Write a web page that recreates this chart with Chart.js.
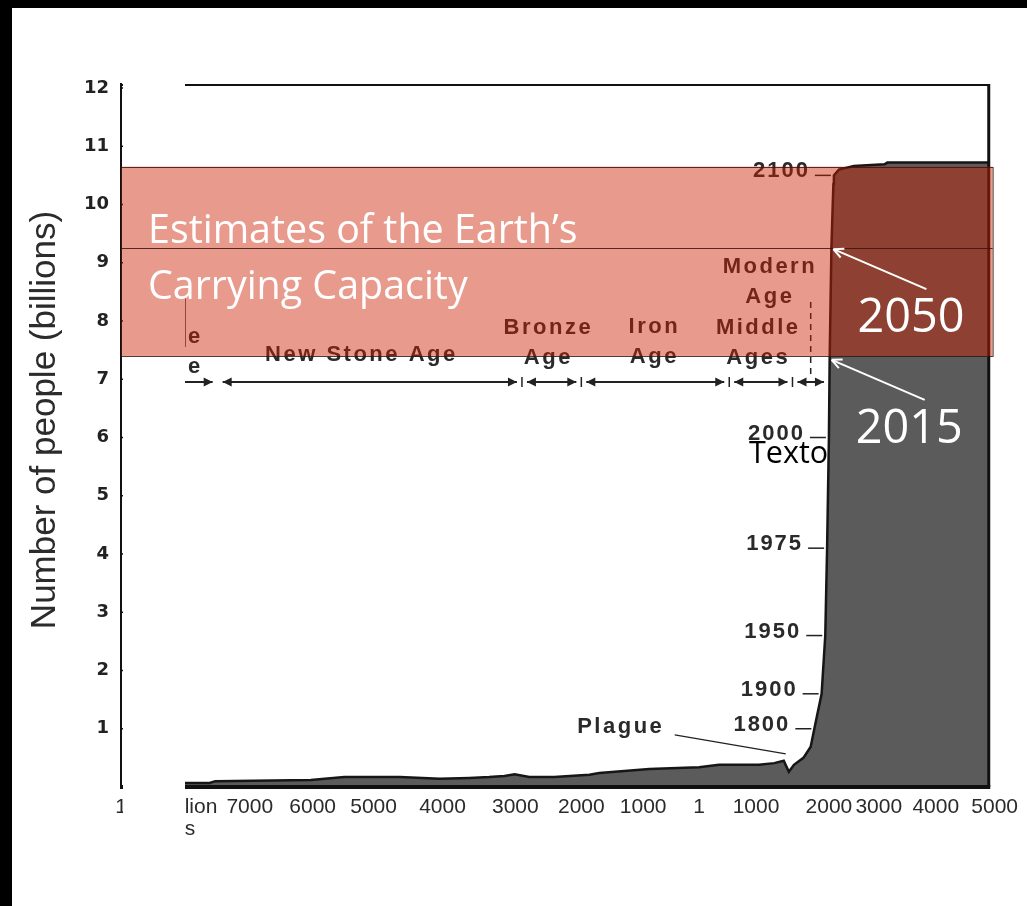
<!DOCTYPE html>
<html lang="en">
<head>
<meta charset="UTF-8">
<title>World Population Growth Through History</title>
<script src="https://cdn.jsdelivr.net/npm/chart.js"></script>
<style>
  html, body { margin: 0; padding: 0; background: #fff; }
  canvas { display: block; }
</style>
</head>
<body>
<canvas id="popChart" width="1027" height="906"></canvas>
<script>
// x axis ticks (years, negative = BC) and their labels
const tickYears = [-9000, -8000, -7000, -6000, -5000, -4000, -3000, -2000, -1000, 1, 1000, 2000, 3000, 4000, 5000];
const tickLabels = ['1', ['2-5 million', 'years'], '7000', '6000', '5000', '4000', '3000', '2000', '1000', '1', '1000', '2000', '3000', '4000', '5000'];

// world population, billions
const popYears = [-8000, -7500, -7430, -6030, -5480, -4620, -4040, -3630, -3360, -3150, -3010, -2790, -2410, -1870, -1710, -890, 1, 350, 1040, 1250, 1380, 1450, 1520, 1650, 1750, 1800, 1900, 1950, 1975, 2000, 2015, 2050, 2075, 2090, 2100, 2200, 2500, 3100, 3150, 4900];
const popValues = [0.07, 0.07, 0.10, 0.12, 0.17, 0.17, 0.14, 0.155, 0.17, 0.19, 0.22, 0.17, 0.17, 0.21, 0.24, 0.31, 0.34, 0.38, 0.38, 0.41, 0.45, 0.26, 0.38, 0.50, 0.69, 1.0, 1.6, 2.6, 4.1, 6.0, 7.35, 9.25, 9.95, 10.35, 10.5, 10.6, 10.66, 10.69, 10.72, 10.72];

// eras along the timeline
const eraLines = [['Old Stone', 'Age'], ['New Stone Age'], ['Bronze', 'Age'], ['Iron', 'Age'], ['Middle', 'Ages'], ['Modern', 'Age']];
const eraStart = [-9000, -7400, -2900, -2000, 530, 1500];
const eraEnd = [-7400, -2900, -2000, 530, 1500, 2000];
const eraLabelYear = [-7585, -5200, -2500, -800, 1030, 1190];
const eraLabelAlign = ['right', 'center', 'center', 'center', 'center', 'center'];

// labelled points on the curve
const milestoneYears = [1800, 1900, 1950, 1975, 2000, 2100];
const calloutYears = [2050, 2015];
const plagueYear = 1380;
const modernMarkYear = 1750;

// carrying capacity band, billions
const capacityLow = 7.4;
const capacityHigh = 10.65;

// --- layout ---
// where each tick year sits along the x axis (0 = left end, 1 = right end)
const tickSpots = [0, 0.0555, 0.1474, 0.2194, 0.2891, 0.368, 0.4514, 0.5269, 0.5977, 0.6617, 0.7269, 0.8103, 0.8674, 0.9326, 1];
const eraLabelRise = [45, 27, 54, 55, 54, 115];
const arrowRowY = 382;
const maskRight = 185;

function spotOf(year) {
  const n = tickYears.length;
  if (year <= tickYears[0]) return tickSpots[0];
  for (let i = 1; i < n; i++) {
    if (year <= tickYears[i]) {
      const t = (year - tickYears[i - 1]) / (tickYears[i] - tickYears[i - 1]);
      return tickSpots[i - 1] + t * (tickSpots[i] - tickSpots[i - 1]);
    }
  }
  return tickSpots[n - 1];
}

function yearOf(spot) {
  const n = tickSpots.length;
  if (spot <= 0) return tickYears[0];
  for (let i = 1; i < n; i++) {
    if (spot <= tickSpots[i]) {
      const t = (spot - tickSpots[i - 1]) / (tickSpots[i] - tickSpots[i - 1]);
      return tickYears[i - 1] + t * (tickYears[i] - tickYears[i - 1]);
    }
  }
  return tickYears[n - 1];
}

// linear scale with uneven spacing between the year ticks
class EraScale extends Chart.LinearScale {
  static id = 'era';
  static defaults = {};
  determineDataLimits() {
    this.min = tickYears[0];
    this.max = tickYears[tickYears.length - 1];
  }
  buildTicks() {
    return tickYears.map(v => ({ value: v }));
  }
  getPixelForValue(value) {
    return this.left + spotOf(value) * this.width;
  }
  getValueForPixel(pixel) {
    return yearOf((pixel - this.left) / this.width);
  }
}
Chart.register(EraScale);

function line(ctx, x1, y1, x2, y2) {
  ctx.beginPath();
  ctx.moveTo(x1, y1);
  ctx.lineTo(x2, y2);
  ctx.stroke();
}

function head(ctx, x, y, dir) {
  ctx.beginPath();
  ctx.moveTo(x, y);
  ctx.lineTo(x - dir * 9, y - 4.5);
  ctx.lineTo(x - dir * 9, y + 4.5);
  ctx.closePath();
  ctx.fill();
}

function openArrow(ctx, x1, y1, x2, y2) {
  line(ctx, x1, y1, x2, y2);
  const a = Math.atan2(y2 - y1, x2 - x1);
  for (const s of [-1, 1]) {
    const b = a + Math.PI + s * 0.45;
    line(ctx, x2, y2, x2 + 11 * Math.cos(b), y2 + 11 * Math.sin(b));
  }
}

function fitFont(ctx, text, width, family, weight) {
  ctx.font = `${weight} 100px ${family}`;
  const size = 100 * width / ctx.measureText(text).width;
  return `${weight} ${size.toFixed(1)}px ${family}`;
}

const popAt = yr => popValues[popYears.indexOf(yr)];

const annotations = {
  id: 'annotations',
  beforeDraw(chart) {
    const ctx = chart.ctx;
    ctx.save();
    ctx.fillStyle = '#fff';
    ctx.fillRect(0, 0, chart.width, chart.height);
    ctx.restore();
  },
  afterDatasetsDraw(chart) {
    const { ctx, chartArea: area, scales: { x, y } } = chart;
    const px = v => x.getPixelForValue(v);
    const py = v => y.getPixelForValue(v);
    const plotRight = px(popYears[popYears.length - 1]);
    ctx.save();

    // plot frame and y axis
    ctx.strokeStyle = '#111';
    ctx.lineWidth = 2;
    line(ctx, area.left, area.top - 3, plotRight, area.top - 3);
    line(ctx, area.left, area.top - 5, area.left, area.bottom + 2);
    ctx.lineWidth = 3;
    line(ctx, plotRight, area.top - 4, plotRight, area.bottom);
    ctx.lineWidth = 4;
    line(ctx, area.left, area.bottom, plotRight + 1.5, area.bottom);
    ctx.lineWidth = 1.5;
    for (let v = 1; v <= 12; v++) line(ctx, area.left, py(v), area.left + 4, py(v));

    // era arrows and names, cut off at the patch edge
    ctx.save();
    ctx.beginPath();
    ctx.rect(maskRight, 0, chart.width - maskRight, chart.height);
    ctx.clip();
    ctx.strokeStyle = '#222';
    ctx.fillStyle = '#222';
    ctx.lineWidth = 2;
    eraStart.forEach((s, i) => {
      const a = px(s) + 5, b = px(eraEnd[i]) - 5;
      line(ctx, a, arrowRowY, b, arrowRowY);
      head(ctx, b, arrowRowY, 1);
      if (i > 0) head(ctx, a, arrowRowY, -1);
      if (i > 1) {
        ctx.lineWidth = 1.5;
        line(ctx, px(s), arrowRowY - 5, px(s), arrowRowY + 5);
        ctx.lineWidth = 2;
      }
    });

    ctx.font = 'bold 22px "Liberation Sans"';
    ctx.letterSpacing = '2.5px';
    ctx.textBaseline = 'middle';
    ctx.fillStyle = '#2a2a2a';
    eraLines.forEach((lines, i) => {
      ctx.textAlign = eraLabelAlign[i];
      lines.forEach((t, k) => {
        ctx.fillText(t, px(eraLabelYear[i]), arrowRowY - eraLabelRise[i] + k * 30);
      });
    });
    ctx.restore();

    // marker below "Modern Age"
    ctx.strokeStyle = '#222';
    ctx.fillStyle = '#2a2a2a';
    ctx.lineWidth = 1.5;
    ctx.setLineDash([6, 5]);
    line(ctx, px(modernMarkYear), 302, px(modernMarkYear), 374);
    ctx.setLineDash([]);

    // year labels along the rise
    ctx.font = 'bold 22px "Liberation Sans"';
    ctx.textBaseline = 'middle';
    ctx.letterSpacing = '2px';
    ctx.textAlign = 'right';
    milestoneYears.forEach(yr => {
      const cx = px(yr), cy = py(popAt(yr));
      ctx.fillText(String(yr), cx - 24, cy - 4);
      line(ctx, cx - 19, cy, cx - 3, cy);
    });

    // plague dip
    {
      const cx = px(plagueYear), cy = py(popAt(plagueYear));
      ctx.letterSpacing = '2.5px';
      ctx.textAlign = 'center';
      ctx.fillText('Plague', cx - 163, cy - 34);
      ctx.lineWidth = 1.2;
      line(ctx, cx - 109, cy - 26, cx + 2, cy - 7);
    }
    ctx.letterSpacing = '0px';

    // white patch over the far left of the timeline
    ctx.fillStyle = '#fff';
    ctx.fillRect(area.left + 2, area.top - 15, maskRight - area.left - 2, 800);
    ctx.strokeStyle = '#666';
    ctx.lineWidth = 1;
    line(ctx, maskRight + 0.5, 298, maskRight + 0.5, 347);

    // carrying capacity band
    const bandTop = py(capacityHigh), bandBot = py(capacityLow);
    const bandRight = area.right - 2;
    ctx.fillStyle = 'rgba(204, 33, 0, 0.45)';
    ctx.fillRect(area.left, bandTop, bandRight - area.left, bandBot - bandTop);
    ctx.strokeStyle = 'rgba(55, 22, 12, 0.85)';
    ctx.lineWidth = 1;
    ctx.strokeRect(area.left + 0.5, Math.round(bandTop) + 0.5, bandRight - area.left, Math.round(bandBot - bandTop));
    const midY = Math.round(py(popAt(2050))) + 0.5;
    line(ctx, area.left, midY, bandRight, midY);

    // band caption
    ctx.fillStyle = '#fff';
    ctx.textAlign = 'left';
    ctx.textBaseline = 'alphabetic';
    ctx.font = fitFont(ctx, 'Estimates of the Earth\u2019s', 429, '"Open Sans"', 'normal');
    ctx.fillText('Estimates of the Earth\u2019s', 148, 243);
    ctx.fillText('Carrying Capacity', 148, 299);

    // 2050 / 2015 callouts
    ctx.font = fitFont(ctx, '2050', 107, '"Open Sans"', 'normal');
    ctx.strokeStyle = '#fff';
    ctx.lineWidth = 2;
    calloutYears.forEach(yr => {
      const cx = px(yr), cy = py(popAt(yr));
      openArrow(ctx, cx + 95, cy + 41, cx + 2, cy + 1);
      ctx.fillText(String(yr), cx + 26, cy + 84);
    });

    // stray text box
    ctx.fillStyle = '#000';
    ctx.font = fitFont(ctx, 'Texto', 79, '"Open Sans"', 'normal');
    ctx.fillText('Texto', 749, 463);

    ctx.restore();
  },
  afterDraw(chart) {
    const ctx = chart.ctx;
    ctx.save();
    // y axis title
    ctx.translate(55, 420);
    ctx.rotate(-Math.PI / 2);
    ctx.fillStyle = '#2b2b2b';
    ctx.font = '35px "Liberation Sans"';
    ctx.textAlign = 'center';
    ctx.textBaseline = 'alphabetic';
    ctx.fillText('Number of people (billions)', 0, 0);
    ctx.restore();
    // dark page edge
    ctx.save();
    ctx.fillStyle = '#000';
    ctx.fillRect(0, 0, 12, chart.height);
    ctx.fillRect(0, 0, chart.width, 8);
    ctx.restore();
  }
};

new Chart(document.getElementById('popChart'), {
  type: 'line',
  data: {
    datasets: [{
      data: popYears.map((yr, i) => ({ x: yr, y: popValues[i] })),
      fill: 'origin',
      backgroundColor: '#5b5b5b',
      borderColor: '#161616',
      borderWidth: 2.5,
      pointRadius: 0,
      tension: 0
    }]
  },
  options: {
    responsive: false,
    animation: false,
    events: [],
    layout: { padding: { top: 88, right: 31, left: 0, bottom: 0 } },
    plugins: { legend: { display: false }, tooltip: { enabled: false } },
    scales: {
      x: {
        type: 'era',
        position: 'bottom',
        grid: { display: false, drawTicks: false },
        border: { display: false },
        ticks: {
          autoSkip: false,
          maxRotation: 0,
          minRotation: 0,
          padding: 9,
          color: '#2b2b2b',
          font: { family: '"Liberation Sans"', size: 21, lineHeight: 1.05 },
          callback: (v, i) => tickLabels[i]
        },
        afterFit: s => { s.height = 119; }
      },
      y: {
        min: 0,
        max: 12,
        grid: { display: false, drawTicks: false },
        border: { display: false },
        ticks: {
          stepSize: 1,
          padding: 12,
          color: '#222',
          font: { family: '"DejaVu Sans"', size: 18, weight: 'bold' },
          callback: v => (v === 0 ? '' : v)
        },
        afterFit: s => { s.width = 121; }
      }
    }
  },
  plugins: [annotations]
});
</script>
</body>
</html>
